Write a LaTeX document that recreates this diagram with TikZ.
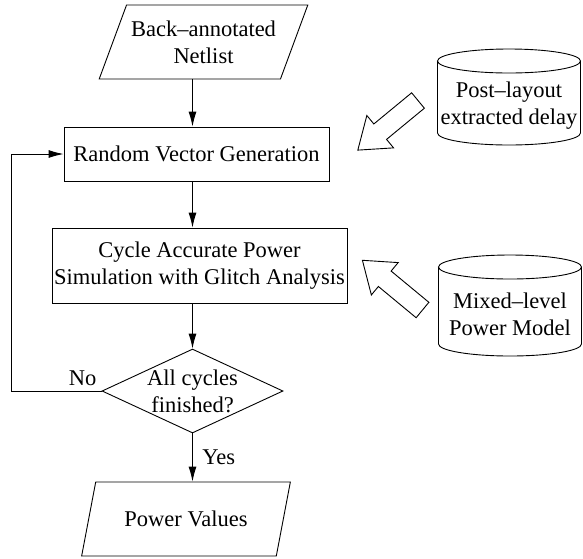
\documentclass[tikz,border=0pt]{standalone}
\usepackage{fontspec}
\setmainfont{Liberation Serif}
\usetikzlibrary{shapes.geometric,arrows.meta}

\begin{document}
\begin{tikzpicture}
	[x=1pt,y=-1pt,line width=0.9pt,
	font=\fontsize{22.5}{27}\selectfont,
	>={Latex[length=15pt,width=8pt]},
	io/.style={trapezium,draw,trapezium left angle=59,trapezium right angle=121,
		trapezium stretches=true,minimum width=209,minimum height=74,
		inner sep=0pt,align=center},
	stepbox/.style={rectangle,draw,inner sep=1pt,align=center},
	test/.style={diamond,draw,minimum width=181,minimum height=84,inner sep=0pt},
	store/.style={inner sep=0pt,align=center}]
	\useasboundingbox (0,0) rectangle (583,558);
	\path node (net) at (203.5,42)  [io] {Back--annotated\\Netlist}
		  node (rvg) at (196.5,154) [stepbox,minimum width=265,minimum height=54] {Random Vector Generation}
		  node (sim) at (199.5,265.5) [stepbox,minimum width=295,minimum height=75] {Cycle Accurate Power\\Simulation with Glitch Analysis}
		  node (chk) at (192.5,391) [test,label={[align=center]center:All cycles\\finished?}] {}
		  node (out) at (186,519) [io] {Power Values}
		  node (dly) at (509,105.5) [store] {Post--layout\\extracted delay}
		  node (mdl) at (510,314)   [store] {Mixed--level\\Power Model};
	% data stores drawn round their text
	\foreach \n/\t/\h in {dly/-44.5/72,mdl/-47/77} {
		\draw (\n) ++(0,\t) ellipse [x radius=71.5,y radius=12];
		\draw (\n) ++(-71.5,\t) -- ++(0,\h) arc [start angle=180,end angle=0,x radius=71.5,y radius=12] -- ++(0,-\h);
	}
	% flow
	\draw[->] (net.south -| chk) -- (rvg.north -| chk);
	\draw[->] (rvg.south -| chk) -- (sim.north -| chk);
	\draw[->] (sim.south -| chk) -- (chk.north);
	\draw[->] (chk.south) -- node[right=6pt] {Yes} (out.north -| chk);
	\draw[->] (chk.west) -- node[pos=0.21,above=2pt] {No} ++(-90,0) |- (rvg.west);
	% hollow arrows from the data stores
	\foreach \p/\a in {{(418,100.5)}/219.5,{(422.5,310)}/140.4}
		\draw[shift={\p},rotate=\a] (0,-10) -- (49,-10) -- (49,-21) -- (78,0)
			-- (49,21) -- (49,10) -- (0,10) -- cycle;
\end{tikzpicture}
\end{document}
